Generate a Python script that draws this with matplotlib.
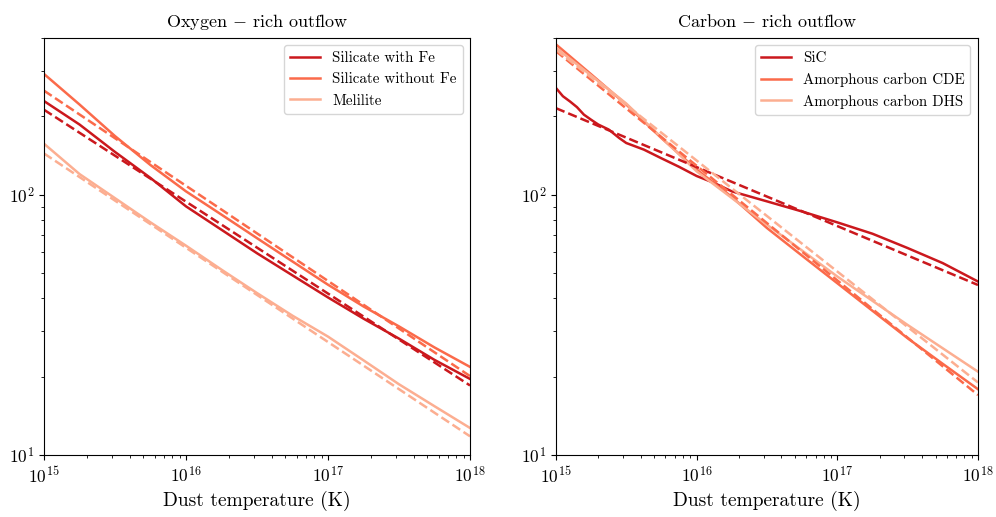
import matplotlib
matplotlib.use("Agg")
import matplotlib.pyplot as plt

plt.rcParams["font.family"] = "serif"
plt.rcParams["font.serif"] = ["cmr10", "DejaVu Serif"]
plt.rcParams["mathtext.fontset"] = "cm"
plt.rcParams["axes.formatter.use_mathtext"] = True

# temperature grid (K), quarter decades
temp = [1e15, 1.78e15, 3.16e15, 5.62e15, 1e16, 1.78e16, 3.16e16, 5.62e16,
        1e17, 1.78e17, 3.16e17, 5.62e17, 1e18]
temp_ends = [1e15, 1e18]

# oxygen-rich outflow
sil_fe = [229, 186, 146, 116, 90.2, 73.3, 59.6, 49.0, 40.3, 33.4, 28.0, 23.2, 19.6]
sil_nofe = [291, 222, 168, 130, 103, 83.8, 68.1, 55.4, 45.1, 37.2, 31.2, 25.9, 21.8]
melilite = [157, 120, 97.0, 78.3, 63.7, 51.5, 41.9, 34.3, 28.5, 23.1, 18.7, 15.4, 12.7]
sil_fe_fit = [212, 18.5]
sil_nofe_fit = [251, 20.1]
melilite_fit = [144, 11.8]

# carbon-rich outflow
sic_temp = [1e15, 1.12e15, 1.26e15, 1.41e15, 1.58e15, 1.78e15, 2.0e15, 2.37e15,
            2.82e15, 3.16e15, 4.22e15, 5.62e15, 7.5e15, 1e16, 1.33e16, 1.78e16,
            3.16e16, 5.62e16, 1e17, 1.78e17, 3.16e17, 5.62e17, 1e18]
sic = [257, 239, 228, 217, 203, 194, 186, 178, 165, 158, 149, 138, 128, 118,
       111, 103, 94.3, 86.2, 78.3, 70.8, 62.4, 54.6, 46.4]
cde = [378, 290, 222, 165, 125, 98.0, 74.5, 58.3, 45.7, 35.8, 28.1, 22.4, 17.9]
dhs = [367, 287, 224, 166, 123, 97.1, 76.7, 61.0, 48.5, 39.1, 31.6, 25.7, 20.9]
sic_fit = [215, 45.0]
cde_fit = [356, 17.0]
dhs_fit = [361, 19.0]

colors = ["#cb181d", "#fb6a4a", "#fcae91"]
lw = 1.8

fig = plt.figure(figsize=(9.96, 5.17), dpi=100)
ax1 = fig.add_axes([0.0442, 0.1199, 0.4277, 0.8066])
ax2 = fig.add_axes([0.5582, 0.1199, 0.4237, 0.8066])

ax1.plot(temp, sil_fe, color=colors[0], lw=lw, label="Silicate with Fe")
ax1.plot(temp, sil_nofe, color=colors[1], lw=lw, label="Silicate without Fe")
ax1.plot(temp, melilite, color=colors[2], lw=lw, label="Melilite")
ax1.plot(temp_ends, sil_fe_fit, color=colors[0], lw=lw, ls="--")
ax1.plot(temp_ends, sil_nofe_fit, color=colors[1], lw=lw, ls="--")
ax1.plot(temp_ends, melilite_fit, color=colors[2], lw=lw, ls="--")
ax1.set_title("Oxygen $-$ rich outflow", fontsize=13, pad=8)

ax2.plot(sic_temp, sic, color=colors[0], lw=lw, label="SiC")
ax2.plot(temp, cde, color=colors[1], lw=lw, label="Amorphous carbon CDE")
ax2.plot(temp, dhs, color=colors[2], lw=lw, label="Amorphous carbon DHS")
ax2.plot(temp_ends, sic_fit, color=colors[0], lw=lw, ls="--")
ax2.plot(temp_ends, cde_fit, color=colors[1], lw=lw, ls="--")
ax2.plot(temp_ends, dhs_fit, color=colors[2], lw=lw, ls="--")
ax2.set_title("Carbon $-$ rich outflow", fontsize=13, pad=8)

for ax in (ax1, ax2):
    ax.set_xscale("log")
    ax.set_yscale("log")
    ax.set_xlim(1e15, 1e18)
    ax.set_ylim(10, 400)
    ax.set_xlabel("Dust temperature (K)", fontsize=14)
    ax.tick_params(labelsize=12.5)
    ax.legend(loc="upper right", fontsize=10.8)

fig.savefig("out.png", dpi=100)
